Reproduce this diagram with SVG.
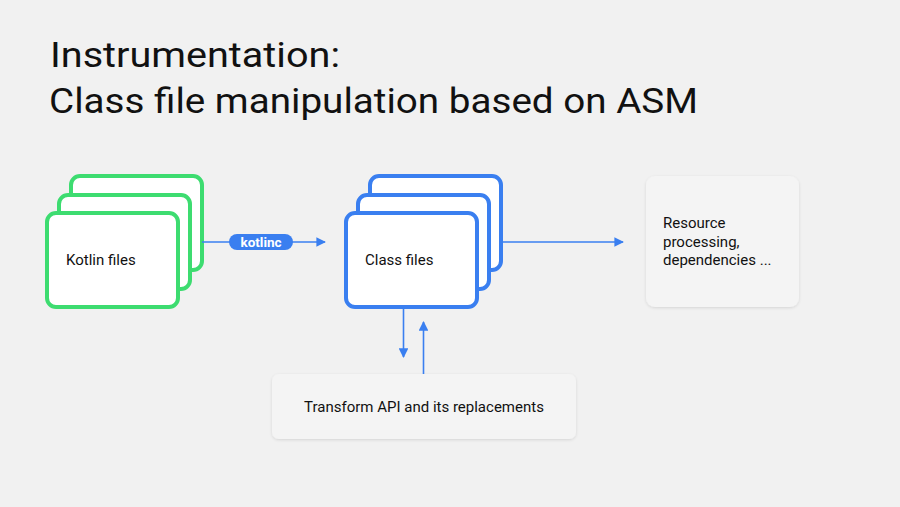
<svg xmlns="http://www.w3.org/2000/svg" width="900" height="507" viewBox="0 0 900 507">
<style>
.title{font-family:Roboto,"Open Sans","Liberation Sans",sans-serif;font-size:35px;font-weight:400;fill:#111}
.lbl{font-family:Roboto,"Open Sans","Liberation Sans",sans-serif;font-size:15px;font-weight:400;fill:#111}
.g{fill:#ffffff;stroke:#3ddc70;stroke-width:4}
.b{fill:#ffffff;stroke:#3a7ff0;stroke-width:4}
.plain{fill:#f4f4f4;filter:url(#sh)}
.con{stroke:#3a7ff0;stroke-width:1.6;fill:none}
</style>
<defs>
<marker id="ah" viewBox="0 0 10 10" refX="9" refY="5" markerWidth="6" markerHeight="6" orient="auto"><path d="M0,0L10,5L0,10z" fill="#3a7ff0"/></marker>
<filter id="sh" x="-10%" y="-10%" width="120%" height="130%"><feDropShadow dx="0" dy="1" stdDeviation="1.5" flood-color="#000" flood-opacity="0.12"/></filter>
</defs>
<rect width="900" height="507" fill="#f1f1f1"/>
<text class="title" x="50" y="67" textLength="290" lengthAdjust="spacingAndGlyphs">Instrumentation:</text>
<text class="title" x="49" y="113" textLength="649" lengthAdjust="spacingAndGlyphs">Class file manipulation based on ASM</text>

<g id="kotlin-files">
<rect class="g" x="71" y="176" width="131" height="94" rx="9"/>
<rect class="g" x="59" y="195" width="131" height="94" rx="9"/>
<rect class="g" x="47" y="213" width="131" height="94" rx="9"/>
<text class="lbl" x="66" y="265">Kotlin files</text>
</g>
<g id="class-files">
<rect class="b" x="370" y="176" width="131" height="94" rx="9"/>
<rect class="b" x="358" y="195" width="131" height="94" rx="9"/>
<rect class="b" x="346" y="213" width="131" height="94" rx="9"/>
<text class="lbl" x="365" y="265">Class files</text>
</g>
<g id="resource">
<rect class="plain" x="646" y="176" width="153" height="131" rx="9"/>
<text class="lbl" x="663" y="228">Resource</text>
<text class="lbl" x="663" y="246.5">processing,</text>
<text class="lbl" x="663" y="265">dependencies ...</text>
</g>
<g id="transform">
<rect class="plain" x="272" y="374" width="304" height="65" rx="7"/>
<text class="lbl" x="424" y="412" text-anchor="middle">Transform API and its replacements</text>
</g>
<g id="connectors">
<line class="con" x1="202" y1="242" x2="325" y2="242" marker-end="url(#ah)"/>
<line class="con" x1="502" y1="242" x2="623" y2="242" marker-end="url(#ah)"/>
<line class="con" x1="403.5" y1="308" x2="403.5" y2="357" marker-end="url(#ah)"/>
<line class="con" x1="423.5" y1="374" x2="423.5" y2="322" marker-end="url(#ah)"/>
<g id="kotlinc-label">
<rect x="229" y="234" width="64" height="16" rx="8" fill="#3a7ff0"/>
<text x="261" y="246.5" text-anchor="middle" font-family="Roboto,'Open Sans','Liberation Sans',sans-serif" font-size="13.5" font-weight="bold" fill="#fff">kotlinc</text>
</g>
</g>
</svg>
